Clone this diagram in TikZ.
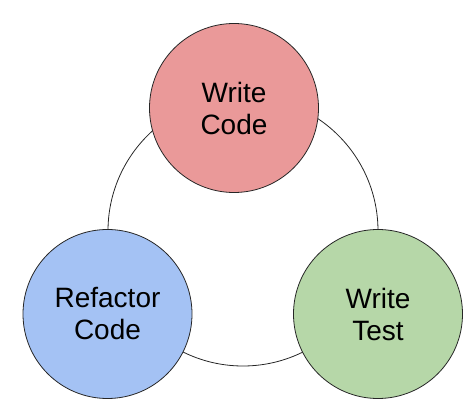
\documentclass[tikz,border=0pt]{standalone}
\usepackage{fontspec}
\setmainfont{Liberation Sans}
\definecolor{codered}{HTML}{EA9999}
\definecolor{refactorblue}{HTML}{A4C2F4}
\definecolor{testgreen}{HTML}{B6D7A8}

\begin{document}
\begin{tikzpicture}[x=1pt, y=-1pt,
    phase/.style={circle, draw=black!85, line width=0.8pt, minimum size=169pt,
      inner sep=0pt, align=center, font=\fontsize{28}{32}\selectfont}]
    \useasboundingbox (0,0) rectangle (474,411);

    % 外側の輪
    \coordinate (ring) at (243,231);
    \draw[line width=0.8pt, black!85] (ring) circle[radius=135pt];

    % 三つの段階
    \node[phase, fill=codered] (write) at (234,108) {Write\\Code};
    \node[phase, fill=refactorblue] (refactor) at (107.5,314) {Refactor\\Code};
    \node[phase, fill=testgreen] (test) at (378,314) {Write\\Test};
\end{tikzpicture}
\end{document}
